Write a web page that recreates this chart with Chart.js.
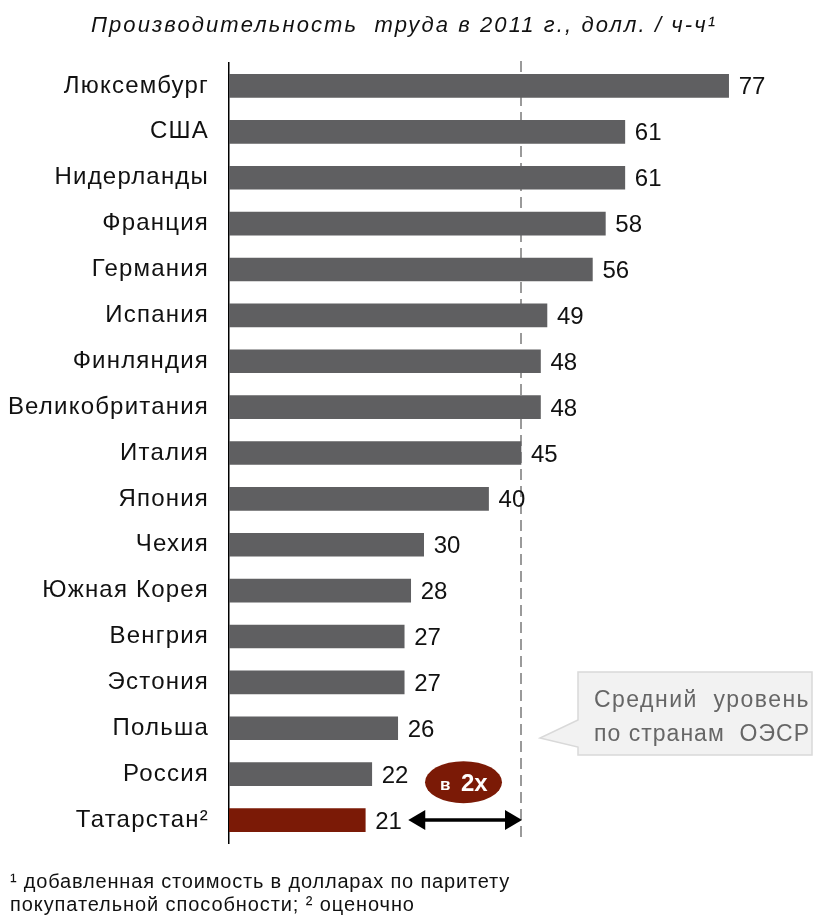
<!DOCTYPE html>
<html><head><meta charset="utf-8">
<script src="https://cdn.jsdelivr.net/npm/chart.js@4.4.1/dist/chart.umd.min.js"></script>
<style>html,body{margin:0;padding:0;background:#fff;}#wrap{width:816px;height:916px;position:relative;}</style>
</head><body><div id="wrap"><canvas id="c" width="816" height="916"></canvas></div>
<script>
const categories = ["Люксембург","США","Нидерланды","Франция","Германия","Испания","Финляндия","Великобритания","Италия","Япония","Чехия","Южная Корея","Венгрия","Эстония","Польша","Россия","Татарстан²"];
const values = [77,61,61,58,56,49,48,48,45,40,30,28,27,27,26,22,21];
const valueLabels = ["77","61","61","58","56","49","48","48","45","40","30","28","27","27","26","22","21"];
const oecdAverage = 45;
const titleText = "Производительность  труда в 2011 г., долл. / ч-ч¹";
const calloutLines = ["Средний  уровень","по странам  ОЭСР"];
const badgeText = ["в","2x"];
const footnoteLines = ["¹ добавленная стоимость в долларах по паритету","покупательной способности; ² оценочно"];

const FONT = "'Liberation Sans', Arial, sans-serif";
const barColors = values.map((v,i)=> i===values.length-1 ? "#7b1a06" : "#5f5f61");

// draw text stretched to a target width using letter spacing
function fitText(ctx, text, x, y, targetW){
  ctx.letterSpacing = "0px";
  const w = ctx.measureText(text).width;
  const n = [...text].length;
  const sp = Math.max(0,(targetW - w)/n);
  ctx.letterSpacing = sp.toFixed(2)+"px";
  ctx.fillText(text, x, y);
  ctx.letterSpacing = "0px";
}

const overlay = {
  id:'overlay',
  beforeDraw(chart){ chart.ctx.letterSpacing = "1.2px"; },
  beforeDatasetsDraw(chart){
    const ctx=chart.ctx, x=chart.scales.x, a=chart.chartArea;
    const px=x.getPixelForValue(oecdAverage);
    ctx.save();
    ctx.letterSpacing="0px";
    ctx.strokeStyle="#7a7a7a"; ctx.lineWidth=1.5; ctx.setLineDash([11,6]);
    ctx.beginPath(); ctx.moveTo(px,a.top-2); ctx.lineTo(px,a.bottom-6); ctx.stroke();
    ctx.restore();
  },
  afterDraw(chart){
    const ctx=chart.ctx, x=chart.scales.x, y=chart.scales.y;
    ctx.save();
    ctx.letterSpacing="0px";
    // title
    ctx.fillStyle="#111"; ctx.font="italic 22px "+FONT; ctx.textAlign="left"; ctx.textBaseline="alphabetic";
    fitText(ctx,titleText,91,32,626);
    // value labels
    ctx.font="24px "+FONT; ctx.textAlign="left"; ctx.textBaseline="alphabetic"; ctx.fillStyle="#111";
    values.forEach((v,i)=>{ ctx.fillText(valueLabels[i], x.getPixelForValue(v)+10, y.getPixelForValue(i)+8.5); });
    // callout
    const px=x.getPixelForValue(oecdAverage);
    const bx=578, by=672, bw=234, bh=83;
    ctx.beginPath();
    ctx.moveTo(bx,by); ctx.lineTo(bx+bw,by); ctx.lineTo(bx+bw,by+bh); ctx.lineTo(bx,by+bh);
    ctx.lineTo(bx,by+75); ctx.lineTo(px+19,by+66); ctx.lineTo(bx,by+48); ctx.closePath();
    ctx.fillStyle="#f2f2f2"; ctx.fill(); ctx.strokeStyle="#d9d9d9"; ctx.lineWidth=1.5; ctx.stroke();
    ctx.fillStyle="#666"; ctx.font="23px "+FONT; ctx.textAlign="left"; ctx.textBaseline="alphabetic";
    fitText(ctx,calloutLines[0],594,707,216);
    fitText(ctx,calloutLines[1],594,741,216);
    // arrow between Tatarstan and OECD line
    const last=values.length-1;
    const ay=y.getPixelForValue(last);
    const x1=x.getPixelForValue(values[last])+43, x2=px+1;
    ctx.strokeStyle="#000"; ctx.fillStyle="#000"; ctx.lineWidth=3.5;
    ctx.beginPath(); ctx.moveTo(x1+10,ay); ctx.lineTo(x2-10,ay); ctx.stroke();
    ctx.beginPath(); ctx.moveTo(x1,ay); ctx.lineTo(x1+17,ay-10); ctx.lineTo(x1+17,ay+10); ctx.closePath(); ctx.fill();
    ctx.beginPath(); ctx.moveTo(x2,ay); ctx.lineTo(x2-17,ay-10); ctx.lineTo(x2-17,ay+10); ctx.closePath(); ctx.fill();
    // badge
    const ey=y.getPixelForValue(last-1)+8, ex=463.5;
    ctx.beginPath(); ctx.ellipse(ex,ey,38.5,21,0,0,Math.PI*2); ctx.fillStyle="#7b1a06"; ctx.fill();
    ctx.fillStyle="#fff"; ctx.textBaseline="alphabetic"; ctx.textAlign="left";
    ctx.font="bold 17px "+FONT; ctx.fillText(badgeText[0],440,ey+8);
    ctx.font="bold 24px "+FONT; ctx.fillText(badgeText[1],461,ey+9);
    // footnote
    ctx.fillStyle="#111"; ctx.font="20px "+FONT; ctx.textAlign="left";
    fitText(ctx,footnoteLines[0],10,888,500);
    fitText(ctx,footnoteLines[1],10,911,405);
    ctx.restore();
  }
};

new Chart(document.getElementById('c'),{
  type:'bar',
  data:{labels:categories,datasets:[{data:values,backgroundColor:barColors,barThickness:23,borderWidth:0}]},
  options:{
    indexAxis:'y', responsive:false, animation:false, devicePixelRatio:1,
    layout:{padding:{top:63,bottom:73,left:0,right:3}},
    plugins:{legend:{display:false},tooltip:{enabled:false},title:{display:false}},
    scales:{
      x:{display:false,min:0,max:90},
      y:{
        grid:{display:false,drawTicks:false},
        border:{display:true,color:"#000",width:1.5},
        ticks:{color:"#111",font:{family:FONT,size:24},padding:20},
        afterFit(s){ s.width=229; }
      }
    }
  },
  plugins:[overlay]
});
</script></body></html>
